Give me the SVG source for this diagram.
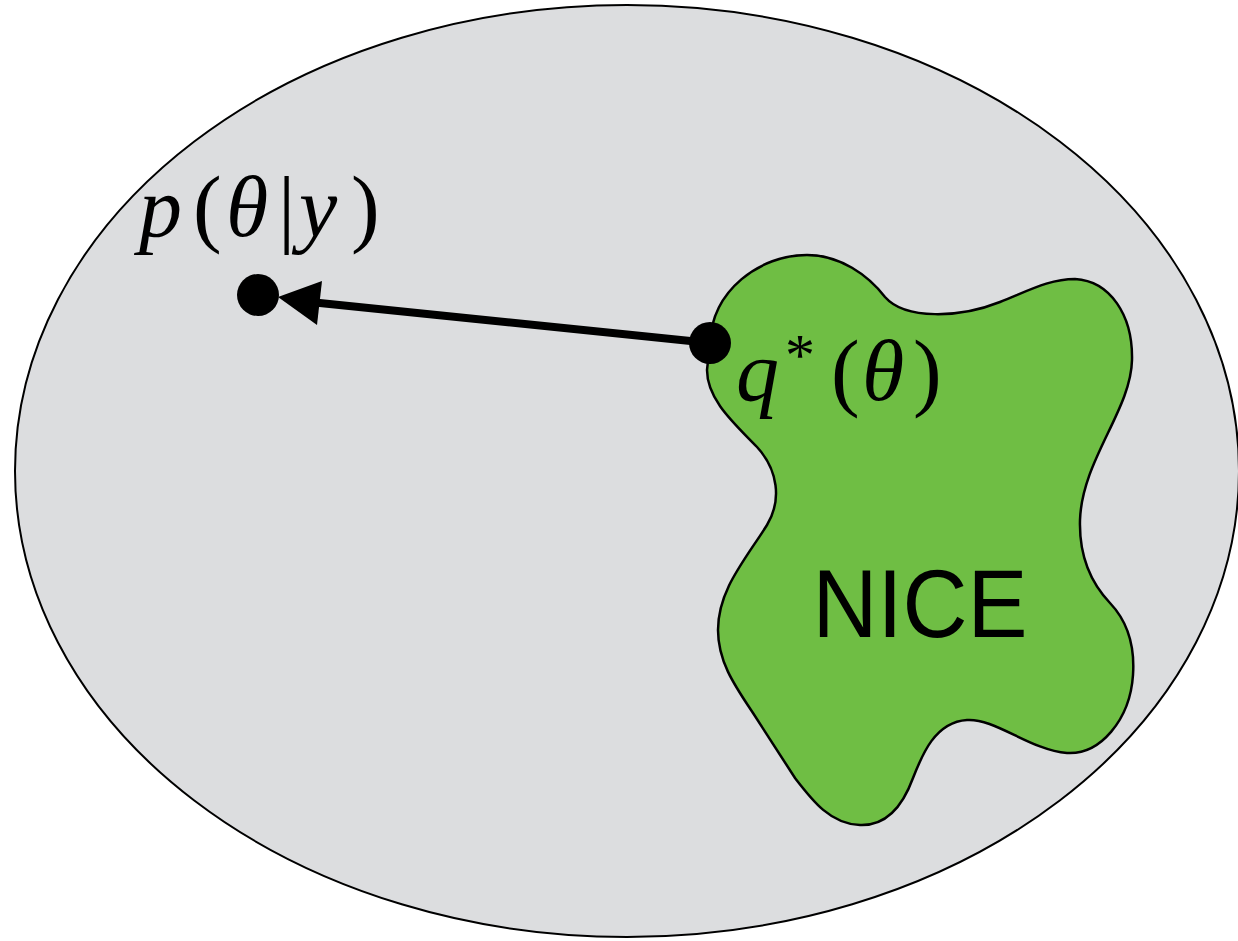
<svg xmlns="http://www.w3.org/2000/svg" width="1238" height="941" viewBox="0 0 1238 941">
<style>
.math{font-family:"Liberation Serif","DejaVu Serif",serif;fill:#000}
.it{font-style:italic}
.lbl{font-family:"Liberation Sans",Arial,sans-serif;fill:#000}
.dot{fill:#000}
</style>
<rect width="1238" height="941" fill="#ffffff"/>
<g id="space">
<ellipse cx="627" cy="471" rx="612" ry="466" fill="#dcdddf" stroke="#000" stroke-width="2"/>
</g>
<g id="nice">
<path d="M 710 343 C 712 290, 760 255, 807 255 C 840 255, 868 275, 885 297 C 905 320, 960 318, 1000 302 C 1030 290, 1050 279, 1075 279 C 1110 281, 1133 315, 1132 360 C 1131 410, 1082 460, 1080 520 C 1079 555, 1090 582, 1110 603 C 1128 622, 1135 645, 1133 675 C 1130 720, 1100 755, 1067 753 C 1030 750, 995 718, 967 720 C 935 722, 922 755, 913 778 C 902 808, 885 826, 860 825 C 830 824, 812 800, 795 778 L 753 713 C 735 686, 718 662, 718 630 C 718 590, 745 560, 767 525 C 782 500, 778 470, 757 447 C 735 424, 707 400, 707 370 Z" fill="#6fbe44" stroke="#000" stroke-width="2.5"/>
<text class="lbl" x="920" y="637" font-size="96" font-weight="300" text-anchor="middle" textLength="215" lengthAdjust="spacingAndGlyphs">NICE</text>
</g>
<g id="connectors">
<line x1="710" y1="343" x2="310" y2="302" stroke="#000" stroke-width="8"/>
<polygon points="278,297 322,281 317,325" fill="#000"/>
</g>
<g id="posterior">
<circle class="dot" cx="258" cy="295" r="21"/>
<text class="math" y="236" font-size="86"><tspan class="it" x="139">p</tspan><tspan x="193">(</tspan><tspan class="it" x="226">θ</tspan><tspan x="278">|</tspan><tspan class="it" x="299">y</tspan><tspan x="351">)</tspan></text>
</g>
<g id="approx">
<circle class="dot" cx="710" cy="343" r="21"/>
<text class="math" y="400" font-size="86"><tspan class="it" x="736">q</tspan><tspan font-size="60" x="785" y="375">*</tspan><tspan x="831" y="400">(</tspan><tspan class="it" x="862">θ</tspan><tspan x="913">)</tspan></text>
</g>
</svg>
